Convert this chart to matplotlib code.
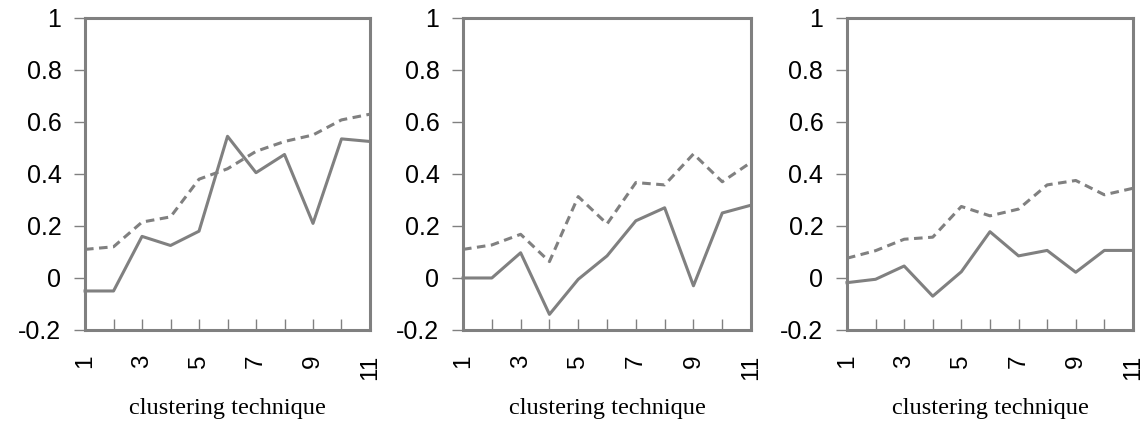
import matplotlib
matplotlib.use("Agg")
import matplotlib.pyplot as plt

techniques = list(range(1, 12))
tick_labels = ["1", "", "3", "", "5", "", "7", "", "9", "", "11"]
y_ticks = [-0.2, 0, 0.2, 0.4, 0.6, 0.8, 1]
y_tick_labels = ["-0.2", "0", "0.2", "0.4", "0.6", "0.8", "1"]

# solid series, one per panel
solid_a = [-0.05, -0.05, 0.16, 0.125, 0.18, 0.545, 0.405, 0.475, 0.21, 0.535, 0.525]
solid_b = [0.0, 0.0, 0.097, -0.14, -0.005, 0.085, 0.22, 0.27, -0.03, 0.25, 0.28]
solid_c = [-0.018, -0.005, 0.046, -0.07, 0.024, 0.178, 0.085, 0.106, 0.022, 0.106, 0.106]

# dashed series, one per panel
dashed_a = [0.11, 0.12, 0.215, 0.235, 0.38, 0.42, 0.487, 0.525, 0.55, 0.608, 0.63]
dashed_b = [0.11, 0.127, 0.168, 0.063, 0.313, 0.208, 0.367, 0.358, 0.477, 0.37, 0.445]
dashed_c = [0.076, 0.105, 0.149, 0.157, 0.275, 0.239, 0.265, 0.358, 0.375, 0.32, 0.345]

GRAY = "#808080"

fig = plt.figure(figsize=(11.43, 4.23), dpi=100)

panels = [
    (0.0744, 0.2493, solid_a, dashed_a),
    (0.4051, 0.2520, solid_b, dashed_b),
    (0.7410, 0.2502, solid_c, dashed_c),
]

for left, width, solid, dashed in panels:
    ax = fig.add_axes([left, 0.2199, width, 0.7376])
    ax.plot(techniques, dashed, color=GRAY, lw=2.2, linestyle=(0, (2.8, 1.8)),
            solid_capstyle="butt", clip_on=False)
    ax.plot(techniques, solid, color=GRAY, lw=2.2, clip_on=False)

    ax.set_xlim(1, 11)
    ax.set_ylim(-0.2, 1)
    ax.set_xticks(techniques)
    ax.set_xticklabels(tick_labels, rotation=90, fontsize=17.5,
                       family="Liberation Sans")
    ax.set_yticks(y_ticks)
    ax.set_yticklabels(y_tick_labels, fontsize=18, family="Liberation Sans")

    ax.tick_params(axis="x", direction="in", length=8, width=1, color=GRAY, pad=18)
    ax.tick_params(axis="y", direction="out", length=8, width=1, color=GRAY, pad=9)

    for s in ax.spines.values():
        s.set_color(GRAY)
        s.set_linewidth(2.2)

    ax.set_xlabel("clustering technique", fontsize=17.5, family="Liberation Serif",
                  labelpad=13)

fig.savefig("out.png", dpi=100)
